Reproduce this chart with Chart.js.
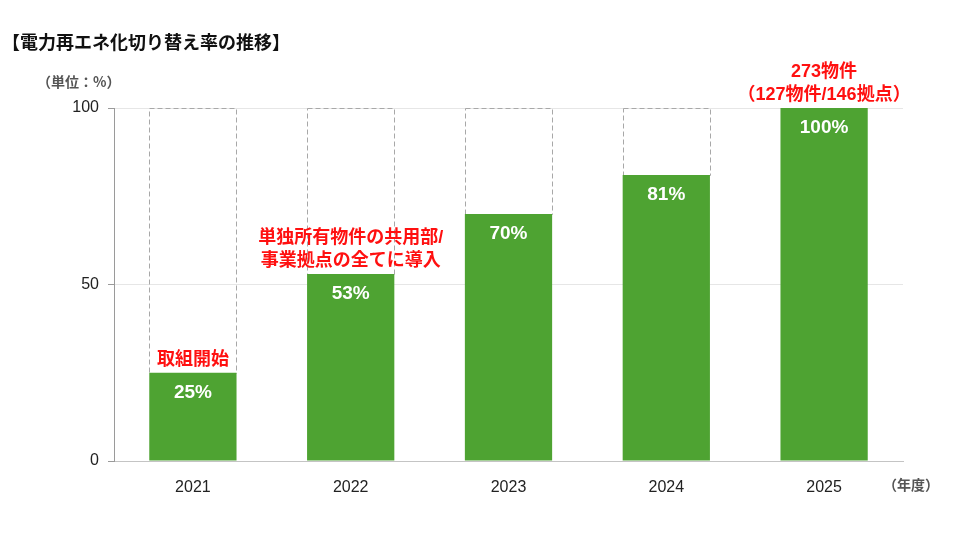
<!DOCTYPE html>
<html>
<head>
<meta charset="utf-8">
<script src="https://cdn.jsdelivr.net/npm/chart.js@4"></script>
<style>
  body { margin:0; background:#fff; }
  #wrap { position:relative; width:958px; height:537px; font-family:"Liberation Sans","Noto Sans CJK JP",sans-serif; }
  #title { position:absolute; left:2px; top:28px; font-size:18px; font-weight:bold; color:#111; font-family:"Noto Sans CJK JP",sans-serif; line-height:26px; }
  #unit { position:absolute; left:37px; top:71px; font-size:14px; font-weight:bold; color:#555; font-family:"Noto Sans CJK JP",sans-serif; line-height:20px; }
  #xunit { position:absolute; left:883px; top:474px; font-size:14px; font-weight:bold; color:#555; font-family:"Noto Sans CJK JP",sans-serif; line-height:20px; }
  canvas { position:absolute; left:0; top:0; }
</style>
</head>
<body>
<div id="wrap">
  <canvas id="myChart" width="958" height="537"></canvas>
  <div id="title">【電力再エネ化切り替え率の推移】</div>
  <div id="unit">（単位：%）</div>
  <div id="xunit">（年度）</div>
</div>
<script>
const years = ['2021','2022','2023','2024','2025']
const rates = [25, 53, 70, 81, 100]
const yTicks = [0, 50, 100]
const notes = [
  ['取組開始'],
  ['単独所有物件の共用部/', '事業拠点の全てに導入'],
  [],
  [],
  ['273物件', '（127物件/146拠点）']
]

const green = '#4ea332'
const latin = '"Liberation Sans", "Noto Sans CJK JP", sans-serif'

// dashed boxes up to 100 and the labels
const barDecor = {
  id: 'barDecor',
  beforeDatasetsDraw(chart) {
    const ctx = chart.ctx
    const y = chart.scales.y
    const meta = chart.getDatasetMeta(0)
    const top = y.getPixelForValue(100)
    ctx.save()
    ctx.strokeStyle = '#a8a8a8'
    ctx.lineWidth = 1
    ctx.setLineDash([5, 3])
    meta.data.forEach((bar, i) => {
      if (rates[i] >= 100) return
      const left = bar.x - bar.width / 2
      ctx.strokeRect(Math.round(left) + 0.5, Math.round(top) + 0.5, Math.round(bar.width), Math.round(bar.y - top))
    })
    ctx.restore()
  },
  afterDatasetsDraw(chart) {
    const ctx = chart.ctx
    const meta = chart.getDatasetMeta(0)
    ctx.save()
    ctx.textAlign = 'center'
    ctx.textBaseline = 'middle'
    meta.data.forEach((bar, i) => {
      ctx.fillStyle = '#fff'
      ctx.font = 'bold 19px ' + latin
      ctx.fillText(rates[i] + '%', bar.x, bar.y + 20)
      const lines = notes[i]
      ctx.fillStyle = '#ff1010'
      ctx.font = 'bold 18px ' + latin
      for (let k = 0; k < lines.length; k++) {
        const ly = bar.y - 13 - (lines.length - 1 - k) * 23
        ctx.fillText(lines[k], bar.x, ly)
      }
    })
    ctx.restore()
  }
}

new Chart(document.getElementById('myChart'), {
  type: 'bar',
  data: {
    labels: years,
    datasets: [{
      data: rates,
      backgroundColor: green,
      borderWidth: 0,
      categoryPercentage: 1,
      barPercentage: 0.553
    }]
  },
  options: {
    responsive: false,
    animation: false,
    layout: { padding: { top: 108, right: 55, bottom: 0, left: 0 } },
    plugins: { legend: { display: false }, tooltip: { enabled: false } },
    scales: {
      x: {
        grid: { display: false },
        border: { color: '#c4c4c4' },
        ticks: { color: '#222', font: { size: 16, family: latin }, padding: 9 },
        afterFit(s) { s.height = 76 }
      },
      y: {
        min: 0, max: 100,
        afterBuildTicks(s) { s.ticks = yTicks.map(v => ({ value: v })) },
        grid: { color: '#e6e6e6', tickColor: '#9a9a9a', tickLength: 6, drawTicks: true },
        border: { color: '#9a9a9a' },
        ticks: { color: '#222', font: { size: 16, family: latin }, padding: 9 },
        afterFit(s) { s.width = 114 }
      }
    }
  },
  plugins: [barDecor]
})
</script>
</body>
</html>
